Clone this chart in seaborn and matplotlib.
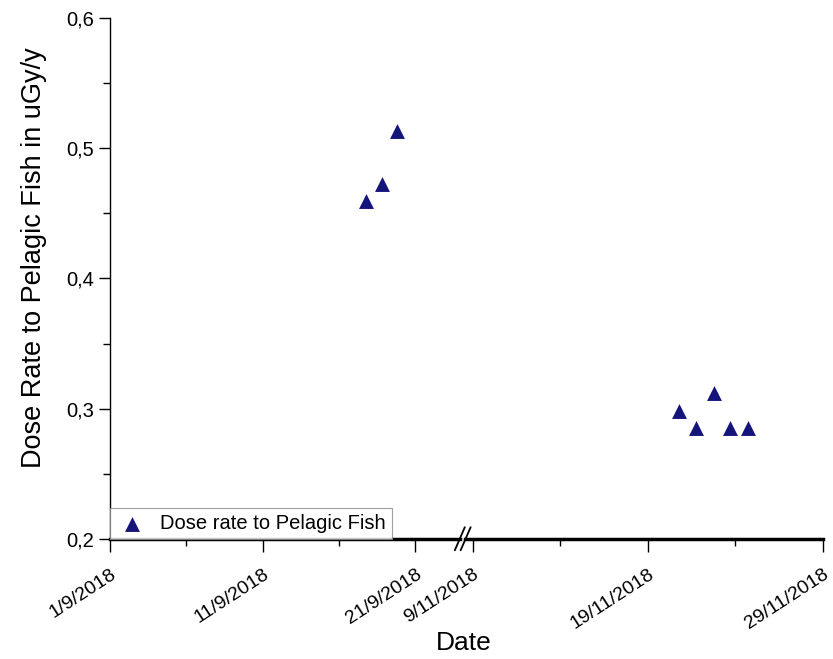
import pandas as pd
import numpy as np
import matplotlib
matplotlib.use('Agg')
import matplotlib.pyplot as plt
import matplotlib.dates as mdates
from matplotlib.ticker import FuncFormatter, MultipleLocator
import seaborn as sns

# data
sept_dates = ['2018-09-17 19:00', '2018-09-18 19:00', '2018-09-19 20:00']
sept_dose = [0.4595, 0.4726, 0.5133]
nov_dates = ['2018-11-20 19:00', '2018-11-21 18:00', '2018-11-22 18:00',
             '2018-11-23 17:00', '2018-11-24 17:00']
nov_dose = [0.2983, 0.2852, 0.3121, 0.2852, 0.2852]
series_name = 'Dose rate to Pelagic Fish'

sept = pd.DataFrame({'Date': pd.to_datetime(sept_dates), 'Dose': sept_dose})
nov = pd.DataFrame({'Date': pd.to_datetime(nov_dates), 'Dose': nov_dose})

sns.set_style('ticks')
plt.rcParams['font.family'] = ['Liberation Sans', 'DejaVu Sans']
plt.rcParams.update({'axes.edgecolor': 'black', 'xtick.color': 'black',
                     'ytick.color': 'black', 'text.color': 'black',
                     'axes.labelcolor': 'black'})

col = '#14147a'
fig = plt.figure(figsize=(8.33, 6.59), dpi=100)
ax1 = fig.add_axes([0.132, 0.182, 0.420, 0.791])
ax2 = fig.add_axes([0.558, 0.182, 0.430, 0.791], sharey=ax1)

sns.scatterplot(data=sept, x='Date', y='Dose', ax=ax1, marker='^', s=115,
                color=col, edgecolor=col, linewidth=0, label=series_name)
sns.scatterplot(data=nov, x='Date', y='Dose', ax=ax2, marker='^', s=115,
                color=col, edgecolor=col, linewidth=0, legend=False)

ax1.set_xlim(pd.Timestamp('2018-09-01'), pd.Timestamp('2018-09-23 22:00'))
ax2.set_xlim(pd.Timestamp('2018-11-08 13:00'), pd.Timestamp('2018-11-29'))
ax1.set_ylim(0.2, 0.6)

fmt = FuncFormatter(lambda v, p: '{d.day}/{d.month}/{d.year}'.format(d=mdates.num2date(v)))
for ax, majors, minors in [
        (ax1, ['2018-09-01', '2018-09-11', '2018-09-21'], ['2018-09-06', '2018-09-16']),
        (ax2, ['2018-11-09', '2018-11-19', '2018-11-29'], ['2018-11-14', '2018-11-24'])]:
    ax.set_xticks([mdates.date2num(pd.Timestamp(d)) for d in majors])
    ax.set_xticks([mdates.date2num(pd.Timestamp(d)) for d in minors], minor=True)
    ax.xaxis.set_major_formatter(fmt)
    ax.tick_params(axis='x', which='major', length=9, width=1, labelsize=14,
                   labelrotation=33, pad=10)
    ax.tick_params(axis='x', which='minor', length=5, width=1)
    for lbl in ax.get_xticklabels():
        lbl.set_ha('right')
        lbl.set_rotation_mode('anchor')
    ax.set_xlabel('')
    ax.set_ylabel('')
    ax.spines['top'].set_visible(False)
    ax.spines['right'].set_visible(False)
    ax.spines['bottom'].set_linewidth(2.5)
    ax.patch.set_alpha(0)

ax1.yaxis.set_major_locator(MultipleLocator(0.1))
ax1.yaxis.set_minor_locator(MultipleLocator(0.05))
ax1.yaxis.set_major_formatter(FuncFormatter(lambda v, p: ('%.1f' % v).replace('.', ',')))
ax1.tick_params(axis='y', which='major', length=8, width=1, labelsize=14.5)
ax1.tick_params(axis='y', which='minor', length=5, width=1)
ax1.spines['left'].set_linewidth(1)
ax2.spines['left'].set_visible(False)
ax2.tick_params(axis='y', which='both', left=False, labelleft=False)
ax1.set_ylabel('Dose Rate to Pelagic Fish in uGy/y', fontsize=19.5)
ax1.yaxis.set_label_coords(-0.18, 0.54)

leg = ax1.legend(loc='lower left', borderaxespad=0, fontsize=14.5, frameon=True,
                 fancybox=False, handletextpad=0.6, borderpad=0.3,
                 handlelength=1.6)
leg.get_frame().set_edgecolor('#888888')
leg.get_frame().set_linewidth(0.8)

# break marks on the x axis
bk = dict(color='black', lw=1.3, clip_on=False)
for xo in [0.552, 0.559]:
    fig.add_artist(plt.Line2D([xo - 0.006, xo + 0.006], [0.165, 0.200], **bk))

fig.text(0.557, 0.024, 'Date', fontsize=19, ha='center', va='center')

fig.savefig('out.png', dpi=100, facecolor='white')
